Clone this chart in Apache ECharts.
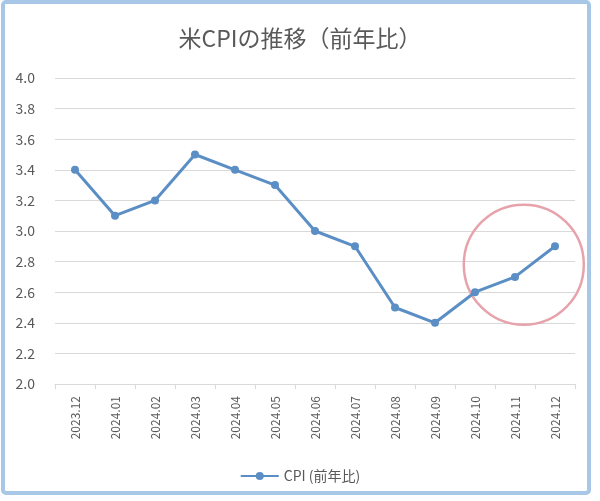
<!DOCTYPE html>
<html>
<head>
<meta charset="utf-8">
<script src="https://cdn.jsdelivr.net/npm/echarts@6/dist/echarts.min.js"></script>
<style>
  html, body { margin: 0; padding: 0; background: #fff; }
  #main { width: 600px; height: 501px; }
</style>
</head>
<body>
<div id="main"></div>
<script>
var months = ['2023.12', '2024.01', '2024.02', '2024.03', '2024.04', '2024.05', '2024.06',
  '2024.07', '2024.08', '2024.09', '2024.10', '2024.11', '2024.12'];
var cpi = [3.4, 3.1, 3.2, 3.5, 3.4, 3.3, 3.0, 2.9, 2.5, 2.4, 2.6, 2.7, 2.9];
var yTicks = { min: 2.0, max: 4.0, step: 0.2 };

var font = '"Noto Sans CJK JP", "Noto Sans", sans-serif';
var chart = echarts.init(document.getElementById('main'));

var option = {
  animation: false,
  textStyle: { fontFamily: font },
  title: {
    text: '米CPIの推移（前年比）',
    left: 'center',
    top: 22,
    textStyle: { fontSize: 23, fontWeight: 'normal', color: '#595959', fontFamily: font }
  },
  legend: {
    top: 464,
    left: 'center',
    itemWidth: 38,
    itemHeight: 10,
    itemGap: 4,
    textStyle: { fontSize: 14, color: '#595959' },
    data: ['CPI (前年比)']
  },
  grid: { left: 55, right: 25, top: 78, bottom: 117 },
  xAxis: {
    type: 'category',
    data: months,
    boundaryGap: true,
    axisLine: { lineStyle: { color: '#d9d9d9' } },
    axisTick: { show: true, length: 5, lineStyle: { color: '#d9d9d9' } },
    axisLabel: { rotate: 90, fontSize: 12, color: '#595959', margin: 12 }
  },
  yAxis: {
    type: 'value',
    min: yTicks.min,
    max: yTicks.max,
    interval: yTicks.step,
    axisLine: { show: false },
    axisTick: { show: false },
    axisLabel: {
      fontSize: 14, color: '#595959', margin: 20,
      formatter: function (v) { return v.toFixed(1); }
    },
    splitLine: { lineStyle: { color: '#d9d9d9' } }
  },
  series: [{
    name: 'CPI (前年比)',
    type: 'line',
    data: cpi,
    symbol: 'circle',
    symbolSize: 8,
    lineStyle: { width: 3, color: '#5b8ec4' },
    itemStyle: { color: '#5b8ec4' }
  }]
};
chart.setOption(option);

// annotation circle around the last three months, plus outer frame
var p11 = chart.convertToPixel({ seriesIndex: 0 }, [11, 2.78]);
var p12 = chart.convertToPixel({ seriesIndex: 0 }, [12, 2.78]);
var cx = p11[0] + (p12[0] - p11[0]) * 0.22;
chart.setOption({
  graphic: [
    {
      type: 'rect',
      shape: { x: 3, y: 2, width: 586, height: 491, r: 3 },
      style: { fill: 'none', stroke: '#a8c6e6', lineWidth: 4 },
      silent: true
    },
    {
      type: 'circle',
      shape: { cx: cx, cy: p11[1], r: 60 },
      style: { fill: 'none', stroke: '#e7a3ab', lineWidth: 2.5 },
      silent: true
    }
  ]
});
</script>
</body>
</html>
